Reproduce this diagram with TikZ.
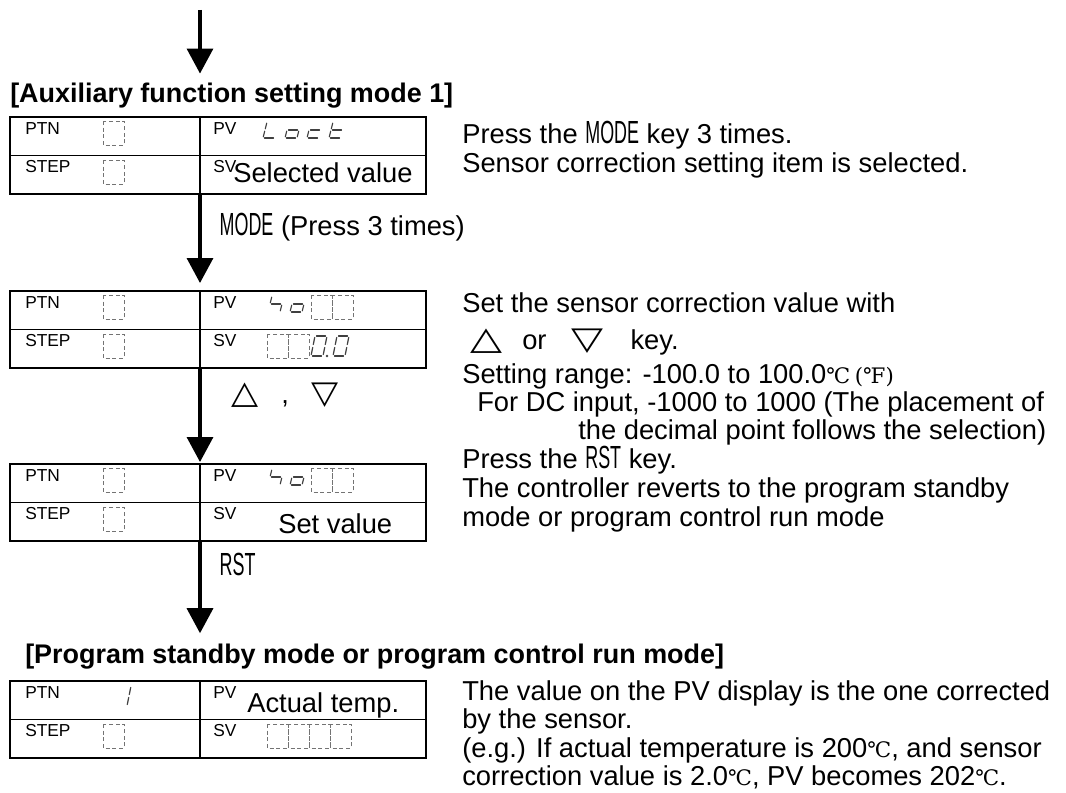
\documentclass[tikz,border=0pt]{standalone}
\usepackage{fontspec}
\setmainfont{Liberation Sans}
\newfontfamily\shapefont{DejaVu Sans}
\newfontfamily\unitfont{DejaVu Serif}
\usepackage{graphicx}
\usetikzlibrary{positioning, arrows.meta, calc}

\newcommand\bodysize{\fontsize{20.5}{24}\selectfont}
\newcommand\tagsize{\fontsize{13}{15}\selectfont}
\newcommand\readsize{\fontsize{20.5}{24}\selectfont}
\newcommand\headsize{\fontsize{20.2}{24}\selectfont\bfseries}
\newcommand\keyname[1]{\scalebox{0.56}[1]{\fontsize{24}{24}\selectfont #1}}
\newcommand\keytri[2]{{\shapefont\fontsize{24}{24}\selectfont\scalebox{#1}[1]{#2}}}
\newcommand\degc{{\unitfont\fontsize{16}{16}\selectfont ℃}}
\newcommand\degf{{\unitfont\fontsize{16}{16}\selectfont (℉)}}

% seven segment strokes, local frame 12 x 20
\newcommand\defseg[2]{\expandafter\def\csname sevseg#1\endcsname{#2}}
\defseg{a}{(1.5,20) -- (10.5,20)}
\defseg{b}{(12,18.5) -- (12,11.5)}
\defseg{c}{(12,8.5) -- (12,1.5)}
\defseg{d}{(1.5,0) -- (10.5,0)}
\defseg{e}{(0,1.5) -- (0,8.5)}
\defseg{f}{(0,11.5) -- (0,18.5)}
\defseg{g}{(1.5,10) -- (10.5,10)}
\newcommand\sevdigit[4][1]{%
  \begin{scope}[shift={(#2,-#3)}, yscale=#1, xslant=0.2]
    \foreach \s in {#4}{\expandafter\let\expandafter\segpath\csname sevseg\s\endcsname
      \draw[segstroke] \segpath;}
  \end{scope}}
\newcommand\blankcell[2]{\draw[blank] (#1,-#2) rectangle ++(21,-24);}

\tikzset{
  leftcell/.style={draw, line width=1.4pt, outer sep=0pt, inner sep=0pt,
    minimum width=142.5pt, minimum height=28.9pt},
  rightcell/.style={leftcell, minimum width=169.5pt},
  tag/.style={anchor=north west, inner sep=0pt, font=\tagsize},
  readout/.style={anchor=base west, inner sep=0pt, font=\readsize},
  note/.style={anchor=base west, inner sep=0pt, font=\bodysize},
  heading/.style={anchor=base west, inner sep=0pt, font=\headsize},
  steplabel/.style={anchor=west, inner sep=0pt, xshift=13.5pt, font=\bodysize},
  flow/.style={line width=2.5pt, -{Triangle[length=18.75pt, width=19.5pt]}},
  blank/.style={densely dashed, line width=0.6pt, black!55},
  segstroke/.style={line width=0.9pt, black!75, line cap=round},
}

% one display panel: prefix, top edge
\newcommand\panel[2]{%
  \node[leftcell, anchor=north west] (#1ptn) at (10,-#2) {};
  \node[leftcell, below=0pt of #1ptn] (#1step) {};
  \node[rightcell, right=0pt of #1ptn] (#1pv) {};
  \node[rightcell, right=0pt of #1step] (#1sv) {};
  \node[tag] (#1ptntag) at ([shift={(15,-5)}]#1ptn.north west) {PTN};
  \node[tag] (#1steptag) at ([shift={(15,-5)}]#1step.north west) {STEP};
  \node[tag] (#1pvtag) at ([shift={(13,-5)}]#1pv.north west) {PV};
  \node[tag] (#1svtag) at ([shift={(13,-5)}]#1sv.north west) {SV};
}

\begin{document}
\begin{tikzpicture}[x=0.75pt, y=0.75pt]
  \useasboundingbox (0,0) rectangle (1066,-792);

  % auxiliary mode 1
  \coordinate (entry) at (200,-10);
  \node[heading] (auxtitle) at (10,-102) {[Auxiliary function setting mode 1]};
  \draw[flow, shorten >=6.5pt] (entry) -- (entry |- auxtitle.north);

  \panel{A}{117}
  \blankcell{103}{121} \blankcell{103}{160}
  \sevdigit[0.8]{263}{138}{e,f,d} \sevdigit[0.8]{285}{138}{c,d,e,g}
  \sevdigit[0.8]{307}{138}{d,e,g} \sevdigit[0.8]{329}{138}{d,e,f,g}
  \node[readout] (selval) at (233,-182) {Selected value};

  \node[note] (noteA1) at (462,-143) {Press the \keyname{MODE} key 3 times.};
  \node[note] (noteA2) at (462,-172) {Sensor correction setting item is selected.};

  % sensor correction
  \panel{B}{291}
  \blankcell{103}{295} \blankcell{103}{334}
  \sevdigit[0.8]{268}{312}{f,g,c} \sevdigit[0.8]{290}{312}{c,d,e,g}
  \blankcell{311}{295} \blankcell{332}{295}
  \blankcell{267}{334} \blankcell{288}{334}
  \sevdigit{311}{356}{a,b,c,d,e,f} \sevdigit{333}{356}{a,b,c,d,e,f}
  \fill[black!75] (327,-356) circle (1.3);

  \node[note] (noteB1) at (462,-312) {Set the sensor correction value with};
  \node[note] (noteB2) at (462,-349) {\hspace{6pt}\keytri{1.3}{△}\hspace{15pt}or\hspace{19pt}\keytri{1.3}{▽}\hspace{20pt}key.};
  \node[note] (noteB3) at (462,-383) {Setting range: -100.0 to 100.0\degc\,\degf};
  \node[note] (noteB4) at (477,-411) {For DC input, -1000 to 1000 (The placement of};
  \node[note] (noteB5) at (578,-439) {the decimal point follows the selection)};

  % set value
  \panel{C}{464}
  \blankcell{103}{468} \blankcell{103}{507}
  \sevdigit[0.8]{268}{485}{f,g,c} \sevdigit[0.8]{290}{485}{c,d,e,g}
  \blankcell{311}{468} \blankcell{332}{468}
  \node[readout] (setval) at (278,-533) {Set value};

  \node[note] (noteC1) at (462,-468) {Press the \keyname{RST} key.};
  \node[note] (noteC2) at (462,-497) {The controller reverts to the program standby};
  \node[note] (noteC3) at (462,-526) {mode or program control run mode};

  % back to program standby
  \node[heading] (progtitle) at (25,-663) {[Program standby mode or program control run mode]};
  \panel{D}{681}
  \sevdigit{115}{706}{b,c}
  \blankcell{103}{724}
  \node[readout] (actual) at (247,-712) {Actual temp.};
  \blankcell{267}{724} \blankcell{288}{724} \blankcell{309}{724} \blankcell{330}{724}

  \node[note] (noteD1) at (462,-700) {The value on the PV display is the one corrected};
  \node[note] (noteD2) at (462,-728) {by the sensor.};
  \node[note] (noteD3) at (462,-757) {(e.g.) If actual temperature is 200\degc, and sensor};
  \node[note] (noteD4) at (462,-785) {correction value is 2.0\degc, PV becomes 202\degc.};

  \draw[flow, shorten >=6pt] (Astep.south east) -- node[steplabel, pos=0.34] (modelabel) {\keyname{MODE} (Press 3 times)} (Bptn.north east);
  \draw[flow, shorten >=1.5pt] (Bstep.south east) -- node[steplabel, pos=0.28, xshift=9pt] (keylabel) {\keytri{1.1}{△}\hspace{17pt},\hspace{17pt}\keytri{1.1}{▽}} (Cptn.north east);
  \draw[flow, shorten >=7.5pt] (Cstep.south east) -- node[steplabel, pos=0.23] (rstlabel) {\keyname{RST}} (Cstep.south east |- progtitle.north);
\end{tikzpicture}
\end{document}
